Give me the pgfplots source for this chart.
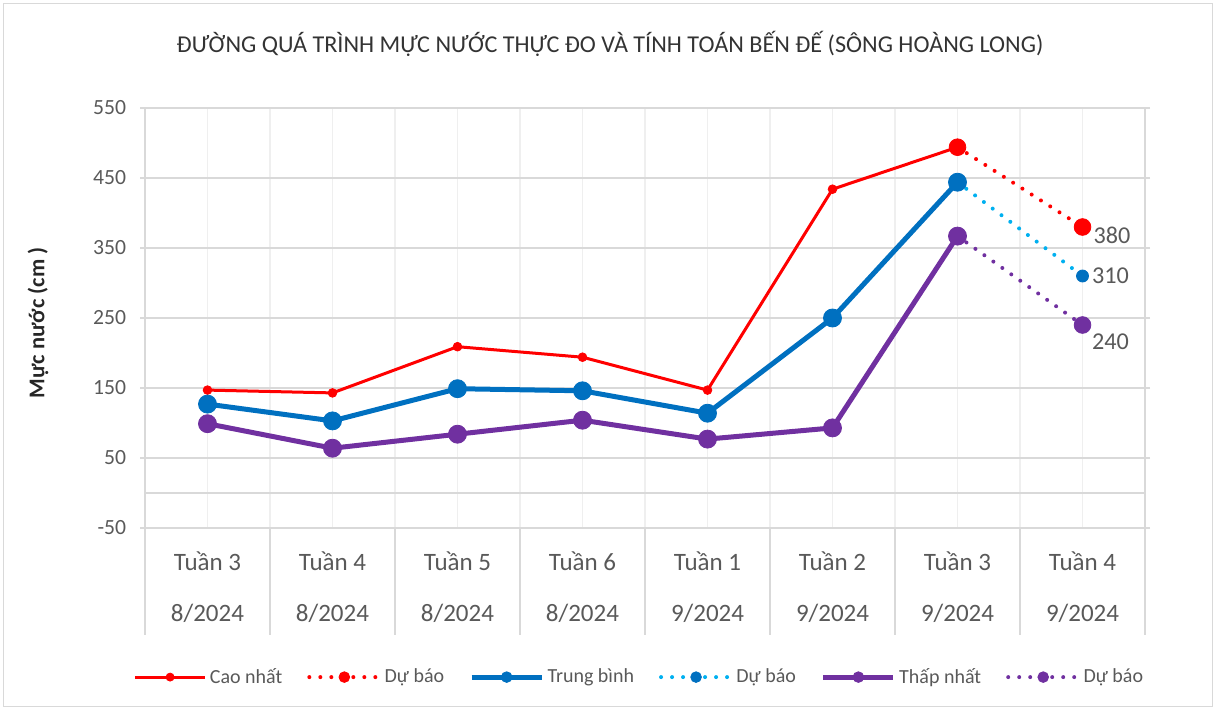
\documentclass[border=0pt]{standalone}
\usepackage{pgfplots}
\pgfplotsset{compat=1.18}
\usepackage{fontspec}
\setmainfont{Carlito}
\definecolor{cRed}{HTML}{FF0000}
\definecolor{cBlue}{HTML}{0070C0}
\definecolor{cCyan}{HTML}{00B0F0}
\definecolor{cPurple}{HTML}{7030A0}
\definecolor{cGrid}{HTML}{D9D9D9}
\definecolor{cGridL}{HTML}{EFEFEF}
\definecolor{cText}{HTML}{595959}
\begin{document}
\begin{tikzpicture}
\useasboundingbox (0,0) rectangle (729pt,-425.4pt);
\draw[cGrid] (1.8pt,-1.8pt) rectangle (727.2pt,-423.6pt);
\node[font=\fontsize{14.5}{17}\selectfont, text=black!80] at (366pt,-26.4pt) {ĐƯỜNG QUÁ TRÌNH MỰC NƯỚC THỰC ĐO VÀ TÍNH TOÁN BẾN ĐẾ (SÔNG HOÀNG LONG)};
\node[rotate=90, font=\bfseries\fontsize{13.5}{16}\selectfont, text=black!85] at (22.8pt,-193.8pt) {Mực nước (cm )};
\begin{axis}[
  at={(87pt,-316.8pt)}, anchor=south west, scale only axis,
  width=600pt, height=252pt,
  xmin=-0.5, xmax=7.5, ymin=-50, ymax=550,
  clip=false,
  /pgf/number format/assume math mode=true,
  xtick={0,...,7},
  xticklabels={Tuần 3,Tuần 4,Tuần 5,Tuần 6,Tuần 1,Tuần 2,Tuần 3,Tuần 4},
  extra x ticks={0,...,7},
  extra x tick labels={8/2024,8/2024,8/2024,8/2024,9/2024,9/2024,9/2024,9/2024},
  extra x tick style={grid=none, xticklabel style={yshift=-30.6pt}},
  xticklabel style={anchor=base, yshift=-22.2pt, font=\fontsize{15}{18}\selectfont, text=cText},
  x tick style={draw=none},
  minor x tick num=1,
  xmajorgrids, xminorgrids, ymajorgrids,
  major x grid style={cGridL, line width=0.8pt},
  minor x grid style={cGridL, line width=0.8pt},
  major y grid style={cGrid, line width=0.8pt},
  ytick={-50,50,150,250,350,450,550},
  yticklabel style={font=\fontsize{13}{15}\selectfont, text=cText, xshift=-4.8pt},
  y tick style={cGrid, line width=0.8pt},
  tick align=outside, major tick length=3pt,
  extra y ticks={0}, extra y tick labels={},
  extra y tick style={grid=major, major tick length=0pt},
  axis line style={cGrid, line width=0.8pt},
  legend columns=6,
  legend style={at={(0.495,-0.355)}, anchor=center, draw=none, fill=none,
    font=\fontsize{12}{14}\selectfont, text=cText,
    /tikz/every even column/.append style={column sep=13pt}},
  legend image code/.code={\draw[mark repeat=2,mark phase=2] plot coordinates {(0pt,0pt)(21pt,0pt)(42pt,0pt)};},
]
\addplot[cRed, line width=1.8pt, mark=*, mark size=2.6pt, mark options={line width=0.5pt}, legend image post style={mark size=2.4pt}]
  coordinates {(0,147)(1,143)(2,209)(3,194)(4,147)(5,434)(6,494)};
\addlegendentry{Cao nhất}
\addplot[cRed, line width=2.4pt, line cap=round, dash pattern=on 0pt off 6.6pt, mark=*, mark size=5pt, mark options={solid, line width=0.5pt}, legend image post style={mark size=3.2pt}]
  coordinates {(6,494)(7,380)};
\addlegendentry{Dự báo}
\addplot[cBlue, line width=3pt, mark=*, mark size=5.4pt, mark options={line width=0.5pt}, legend image post style={mark size=3.2pt}]
  coordinates {(0,127)(1,103)(2,149)(3,146)(4,114)(5,250)(6,444)};
\addlegendentry{Trung bình}
\addplot[cCyan, line width=2.4pt, line cap=round, dash pattern=on 0pt off 6.6pt, mark=*, mark size=3.6pt, mark options={solid, draw=cBlue, fill=cBlue, line width=0.5pt}, legend image post style={mark size=3.2pt}]
  coordinates {(6,444)(7,310)};
\addlegendentry{Dự báo}
\addplot[cPurple, line width=3pt, mark=*, mark size=5.4pt, mark options={line width=0.5pt}, legend image post style={mark size=3.2pt}]
  coordinates {(0,99)(1,64)(2,84)(3,104)(4,77)(5,93)(6,367)};
\addlegendentry{Thấp nhất}
\addplot[cPurple, line width=2.4pt, line cap=round, dash pattern=on 0pt off 6.6pt, mark=*, mark size=5pt, mark options={solid, line width=0.5pt}, legend image post style={mark size=3.2pt}]
  coordinates {(6,367)(7,240)};
\addlegendentry{Dự báo}
\pgfplotsinvokeforeach{-0.5,0.5,1.5,2.5,3.5,4.5,5.5,6.5,7.5}{
  \draw[cGrid, line width=0.8pt] (axis cs:#1,-50) -- ++(0pt,-64.2pt);
}
\node[anchor=west, text=cText, font=\fontsize{14.5}{17}\selectfont, inner sep=1pt] at (axis cs:7,380) [xshift=5.5pt, yshift=-4.8pt] {380};
\node[anchor=west, text=cText, font=\fontsize{14.5}{17}\selectfont, inner sep=1pt] at (axis cs:7,310) [xshift=4.5pt, yshift=0pt] {310};
\node[anchor=west, text=cText, font=\fontsize{14.5}{17}\selectfont, inner sep=1pt] at (axis cs:7,240) [xshift=4.5pt, yshift=-10.2pt] {240};
\end{axis}
\end{tikzpicture}
\end{document}
